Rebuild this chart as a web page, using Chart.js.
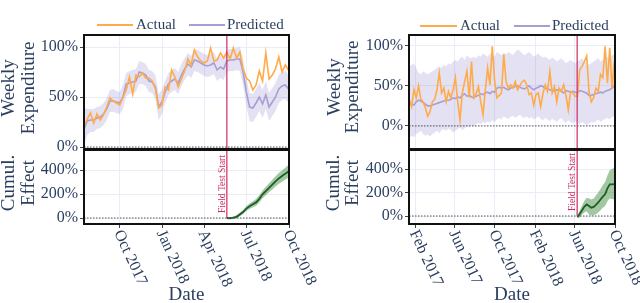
<!DOCTYPE html>
<html>
<head>
<meta charset="utf-8">
<script src="https://cdn.jsdelivr.net/npm/chart.js@4.4.0/dist/chart.umd.min.js"></script>
<style>
  html, body { margin: 0; padding: 0; background: #fff; }
  #wrap { position: relative; width: 640px; height: 303px; overflow: hidden; }
  #wrap canvas { position: absolute; left: 0; top: 0; }
</style>
</head>
<body>
<div id="wrap">
  <canvas id="lt" width="640" height="303"></canvas>
  <canvas id="lb" width="640" height="303"></canvas>
  <canvas id="rt" width="640" height="303"></canvas>
  <canvas id="rb" width="640" height="303"></canvas>
</div>
<script>
// ---- data (weekly, percent) ----
// left panel: weekly from 2017-07-16
const leftStart = '2017-07-16';
const leftActual = [20, 28, 34, 24, 33, 27, 32, 40, 49, 46,
  44, 42, 50, 57, 70, 53, 72, 70, 74, 69,
  69, 66, 58, 39, 42, 60, 57, 77, 70, 60,
  68, 76, 88, 82, 97, 90, 86, 84, 86, 99,
  86, 87, 94, 89, 95, 88, 99, 89, 95, 78,
  69, 66, 57, 62, 76, 66, 94, 68, 72, 78,
  90, 75, 82, 77];
const leftPredicted = [18, 26, 27, 27, 29, 30, 33, 38, 46, 46,
  45, 44, 50, 63, 64, 65, 66, 75, 74, 72,
  66, 65, 60, 40, 45, 55, 63, 66, 68, 64,
  72, 78, 83, 80, 87, 86, 84, 82, 81, 82,
  84, 77, 80, 78, 86, 87, 87, 88, 88, 75,
  55, 40, 39, 44, 50, 43, 52, 40, 45, 50,
  58, 61, 62, 58];
const leftLower = [2, 12, 15, 15, 18, 19, 22, 27, 35, 35,
  34, 33, 38, 51, 53, 54, 55, 63, 63, 61,
  55, 54, 48, 27, 33, 44, 52, 55, 57, 53,
  61, 67, 72, 69, 76, 75, 73, 71, 70, 71,
  73, 66, 69, 67, 75, 76, 76, 77, 76, 62,
  41, 26, 25, 30, 36, 29, 38, 26, 31, 36,
  44, 47, 48, 44];
const leftUpper = [40, 38, 38, 38, 40, 41, 44, 49, 57, 58,
  56, 55, 62, 74, 76, 77, 78, 86, 85, 83,
  77, 76, 72, 53, 57, 66, 74, 77, 79, 75,
  83, 89, 94, 91, 98, 97, 95, 93, 92, 93,
  95, 88, 91, 89, 97, 98, 98, 99, 100, 88,
  69, 54, 53, 58, 64, 57, 66, 54, 59, 64,
  72, 75, 76, 72];
const leftEffect = [0, -2, 3, 10, 30, 50, 78, 98, 115, 130,
  160, 198, 225, 252, 278, 305, 330, 350, 370, 388];
const leftEffectLower = [-3, -8, -6, -2, 15, 33, 58, 76, 90, 103,
  130, 165, 190, 215, 238, 262, 285, 302, 320, 335];
const leftEffectUpper = [3, 5, 12, 22, 45, 67, 97, 120, 140, 158,
  190, 230, 260, 290, 318, 348, 375, 398, 420, 445];
const leftFieldTest = '2018-05-20';
const leftTickDates = ['2017-10-01', '2018-01-01', '2018-04-01', '2018-07-01', '2018-10-01'];
const leftTickLabels = ['Oct 2017', 'Jan 2018', 'Apr 2018', 'Jul 2018', 'Oct 2018'];

// right panel: weekly from 2017-01-14
const rightStart = '2017-01-14';
const rightActual = [33, 24, 45, 35, 50, 33, 30, 22, 12, 18,
  30, 33, 45, 66, 41, 47, 30, 43, 35, 45,
  60, 30, 7, 41, 55, 68, 35, 80, 35, 40,
  49, 30, 14, 45, 72, 51, 99, 57, 35, 38,
  41, 89, 55, 47, 51, 47, 55, 45, 50, 55,
  57, 51, 39, 41, 26, 39, 41, 24, 40, 51,
  43, 68, 41, 49, 30, 47, 43, 51, 38, 20,
  43, 41, 37, 37, 70, 74, 80, 87, 43, 30,
  35, 47, 43, 64, 60, 99, 53, 97, 47, 80];
const rightPredicted = [30, 27, 26, 30, 32, 31, 29, 27, 25, 25,
  26, 27, 28, 29, 30, 31, 32, 32, 33, 35,
  34, 36, 35, 38, 40, 37, 38, 36, 35, 37,
  38, 40, 39, 41, 42, 40, 43, 42, 47, 48,
  47, 48, 46, 45, 47, 48, 49, 50, 48, 47,
  46, 48, 50, 47, 45, 47, 48, 50, 49, 47,
  46, 45, 44, 43, 45, 44, 43, 41, 44, 43,
  42, 43, 42, 41, 44, 43, 42, 41, 38, 38,
  39, 40, 41, 42, 41, 43, 44, 45, 47, 50];
const rightLower = [-15, -12, -14, -10, -8, -6, -10, -12, -11, -13,
  -10, -8, -6, -9, -5, -4, -6, -3, -5, -8,
  -6, -4, -2, -5, -3, 0, -2, 1, -1, 2,
  4, 2, 5, 3, 6, 4, 7, 5, 8, 10,
  8, 12, 10, 9, 11, 13, 10, 12, 14, 11,
  10, 12, 9, 11, 8, 10, 12, 9, 7, 10,
  8, 6, 9, 7, 5, 8, 10, 6, 4, 7,
  5, 3, 6, 4, 2, 5, 3, 1, 3, 5,
  4, 6, 8, 5, 7, 9, 10, 8, 11, 12];
const rightUpper = [74, 76, 78, 72, 66, 64, 68, 66, 64, 66,
  68, 70, 72, 74, 72, 76, 74, 78, 76, 80,
  82, 80, 84, 86, 82, 88, 85, 84, 86, 84,
  88, 86, 90, 88, 86, 90, 88, 86, 92, 90,
  88, 91, 89, 92, 90, 88, 92, 95, 93, 90,
  88, 90, 92, 89, 86, 88, 90, 87, 85, 86,
  84, 82, 85, 83, 80, 82, 84, 81, 78, 80,
  82, 80, 78, 80, 82, 84, 80, 78, 76, 78,
  80, 82, 84, 80, 82, 84, 86, 85, 88, 89];
const rightEffect = [-10, 20, 50, 80, 98, 85, 70, 78, 95, 115,
  140, 165, 185, 235, 270, 270, 272];
const rightEffectLower = [-20, -10, 10, 30, 40, 10, 5, 5, 15, 30,
  50, 70, 85, 125, 150, 145, 140];
const rightEffectUpper = [0, 50, 90, 130, 155, 150, 140, 150, 175, 200,
  230, 265, 290, 345, 390, 400, 410];
const rightFieldTest = '2018-06-08';
const rightTickDates = ['2017-02-01', '2017-06-01', '2017-10-01', '2018-02-01', '2018-06-01', '2018-10-01'];
const rightTickLabels = ['Feb 2017', 'Jun 2017', 'Oct 2017', 'Feb 2018', 'Jun 2018', 'Oct 2018'];

const topTicks = [0, 50, 100];
const bottomTicks = [0, 200, 400];

// ---- helpers ----
const SERIF = "'Liberation Serif', 'Times New Roman', serif";
const TEXT = '#2a3f5f';
const GRID = '#e8edf7';
const ORANGE = '#ffab4a';
const PURPLE = '#a89ed4';
const BAND = 'rgba(150,140,210,0.26)';
const GREEN = '#1e5e24';
const GREEN_BAND = 'rgba(50,130,50,0.45)';
const FIELD = '#d02a62';
const Y_W = 70;

const DAY0 = Date.parse('2017-01-01');
const day = s => (Date.parse(s) - DAY0) / 864e5;
const weekly = (start, n) => Array.from({ length: n }, (_, i) => day(start) + 7 * i);
const pts = (xs, ys) => ys.map((v, i) => ({ x: xs[i], y: v }));

const leftDays = weekly(leftStart, leftActual.length);
const rightDays = weekly(rightStart, rightActual.length);
const leftEffDays = leftDays.slice(leftDays.length - leftEffect.length);
const rightEffDays = rightDays.slice(rightDays.length - rightEffect.length);

function decor(o) {
  return {
    id: 'decor',
    afterDatasetsDraw(chart) {
      const { ctx, chartArea: ca, scales: { x, y } } = chart;
      const y0 = y.getPixelForValue(0);
      ctx.save();
      ctx.beginPath();
      ctx.setLineDash([1.5, 1.5]);
      ctx.strokeStyle = '#555';
      ctx.lineWidth = 1;
      ctx.moveTo(ca.left, y0);
      ctx.lineTo(ca.right, y0);
      ctx.stroke();
      ctx.setLineDash([]);
      const fx = x.getPixelForValue(day(o.field));
      ctx.beginPath();
      ctx.strokeStyle = FIELD;
      ctx.lineWidth = 1.2;
      ctx.moveTo(fx, ca.top);
      ctx.lineTo(fx, o.bottom ? y0 : ca.bottom);
      ctx.stroke();
      if (o.bottom) {
        ctx.translate(fx - 2, y0 - 5);
        ctx.rotate(-Math.PI / 2);
        ctx.font = '9.5px ' + SERIF;
        ctx.fillStyle = FIELD;
        ctx.textAlign = 'left';
        ctx.textBaseline = 'alphabetic';
        ctx.fillText('Field Test Start', 0, 0);
      }
      ctx.restore();
    },
    afterDraw(chart) {
      const { ctx, chartArea: ca, scales: { x } } = chart;
      ctx.save();
      ctx.strokeStyle = '#111';
      ctx.lineWidth = 2;
      ctx.strokeRect(ca.left, ca.top, ca.right - ca.left, ca.bottom - ca.top);

      ctx.fillStyle = TEXT;
      ctx.font = '19px ' + SERIF;
      ctx.textAlign = 'center';
      ctx.textBaseline = 'middle';
      o.title.forEach((t, i) => {
        ctx.save();
        ctx.translate(o.titleX[i], o.titleY);
        ctx.rotate(-Math.PI / 2);
        ctx.fillText(t, 0, 0);
        ctx.restore();
      });

      if (o.legend) {
        ctx.font = '15px ' + SERIF;
        ctx.textAlign = 'left';
        ctx.lineWidth = 2;
        o.legend.forEach(it => {
          ctx.strokeStyle = it.color;
          ctx.beginPath();
          ctx.moveTo(it.x0, o.legendY);
          ctx.lineTo(it.x1, o.legendY);
          ctx.stroke();
          ctx.fillText(it.label, it.tx, o.legendY);
        });
      }

      if (o.bottom) {
        ctx.font = '16px ' + SERIF;
        ctx.textAlign = 'left';
        ctx.textBaseline = 'middle';
        o.ticks.forEach((d, i) => {
          const px = x.getPixelForValue(day(d));
          ctx.save();
          ctx.translate(px - 2, ca.bottom + 7);
          ctx.rotate(65 * Math.PI / 180);
          ctx.fillText(o.tickLabels[i], 0, 0);
          ctx.restore();
        });
        ctx.font = '19px ' + SERIF;
        ctx.textAlign = 'center';
        ctx.textBaseline = 'alphabetic';
        ctx.fillText('Date', (ca.left + ca.right) / 2, 300);
      }
      ctx.restore();
    }
  };
}

function makeChart(id, c) {
  const pad = { left: c.area[0] - Y_W, right: 640 - c.area[1], top: c.area[2], bottom: 303 - c.area[3] };
  return new Chart(document.getElementById(id), {
    type: 'line',
    data: { datasets: c.datasets },
    options: {
      responsive: false,
      animation: false,
      devicePixelRatio: 1,
      layout: { padding: pad },
      plugins: { legend: { display: false }, tooltip: { enabled: false } },
      elements: { point: { radius: 0 }, line: { tension: 0 } },
      scales: {
        x: {
          type: 'linear', min: c.xMin, max: c.xMax,
          afterBuildTicks: s => { s.ticks = c.deco.ticks.map(d => ({ value: day(d) })); },
          afterFit: s => { s.height = 0; },
          ticks: { display: false },
          grid: { color: GRID, lineWidth: 1, drawTicks: c.deco.bottom, tickLength: 4, tickColor: '#444' },
          border: { display: false }
        },
        y: {
          min: c.yMin, max: c.yMax,
          afterBuildTicks: s => { s.ticks = c.yTicks.map(v => ({ value: v })); },
          afterFit: s => { s.width = Y_W; },
          ticks: { callback: v => v + '%', font: { family: SERIF, size: 16 }, color: TEXT, padding: 2 },
          grid: { color: GRID, lineWidth: 1, tickLength: 4, tickColor: '#444' },
          border: { display: false }
        }
      }
    },
    plugins: [decor(c.deco)]
  });
}

function topSets(days, actual, pred, lo, hi) {
  return [
    { label: 'Actual', data: pts(days, actual), borderColor: ORANGE, borderWidth: 1.6, fill: false },
    { label: 'Predicted', data: pts(days, pred), borderColor: PURPLE, borderWidth: 1.6, fill: false },
    { data: pts(days, hi), borderColor: 'transparent', borderWidth: 1, backgroundColor: BAND, fill: '+1' },
    { data: pts(days, lo), borderColor: 'transparent', borderWidth: 1, fill: false }
  ];
}
function effSets(days, eff, lo, hi) {
  return [
    { data: pts(days, eff), borderColor: GREEN, borderWidth: 1.8, fill: false },
    { data: pts(days, hi), borderColor: 'transparent', borderWidth: 1, backgroundColor: GREEN_BAND, fill: '+1' },
    { data: pts(days, lo), borderColor: 'transparent', borderWidth: 1, fill: false }
  ];
}

makeChart('lt', {
  area: [84, 289, 35, 149], xMin: day(leftStart), xMax: day('2018-10-01'),
  yMin: -2, yMax: 112, yTicks: topTicks,
  datasets: topSets(leftDays, leftActual, leftPredicted, leftLower, leftUpper),
  deco: {
    field: leftFieldTest, ticks: leftTickDates, bottom: false,
    title: ['Weekly', 'Expenditure'], titleX: [9, 29], titleY: 88,
    legendY: 25,
    legend: [
      { label: 'Actual', color: ORANGE, x0: 97, x1: 133, tx: 136 },
      { label: 'Predicted', color: PURPLE, x0: 189, x1: 225, tx: 227 }
    ]
  }
});
makeChart('lb', {
  area: [84, 289, 150, 224], xMin: day(leftStart), xMax: day('2018-10-01'),
  yMin: -50, yMax: 567, yTicks: bottomTicks,
  datasets: effSets(leftEffDays, leftEffect, leftEffectLower, leftEffectUpper),
  deco: {
    field: leftFieldTest, ticks: leftTickDates, tickLabels: leftTickLabels, bottom: true,
    title: ['Cumul.', 'Effect'], titleX: [9, 29], titleY: 183
  }
});
makeChart('rt', {
  area: [409, 615, 35, 149], xMin: day(rightStart) - 1, xMax: day('2018-10-01'),
  yMin: -28.6, yMax: 113, yTicks: topTicks,
  datasets: topSets(rightDays, rightActual, rightPredicted, rightLower, rightUpper),
  deco: {
    field: rightFieldTest, ticks: rightTickDates, bottom: false,
    title: ['Weekly', 'Expenditure'], titleX: [335, 353], titleY: 87,
    legendY: 26,
    legend: [
      { label: 'Actual', color: ORANGE, x0: 420, x1: 457, tx: 460 },
      { label: 'Predicted', color: PURPLE, x0: 514, x1: 550, tx: 552 }
    ]
  }
});
makeChart('rb', {
  area: [409, 615, 150, 224], xMin: day(rightStart) - 1, xMax: day('2018-10-01'),
  yMin: -68, yMax: 562, yTicks: bottomTicks,
  datasets: effSets(rightEffDays, rightEffect, rightEffectLower, rightEffectUpper),
  deco: {
    field: rightFieldTest, ticks: rightTickDates, tickLabels: rightTickLabels, bottom: true,
    title: ['Cumul.', 'Effect'], titleX: [334, 353], titleY: 183
  }
});
</script>
</body>
</html>
